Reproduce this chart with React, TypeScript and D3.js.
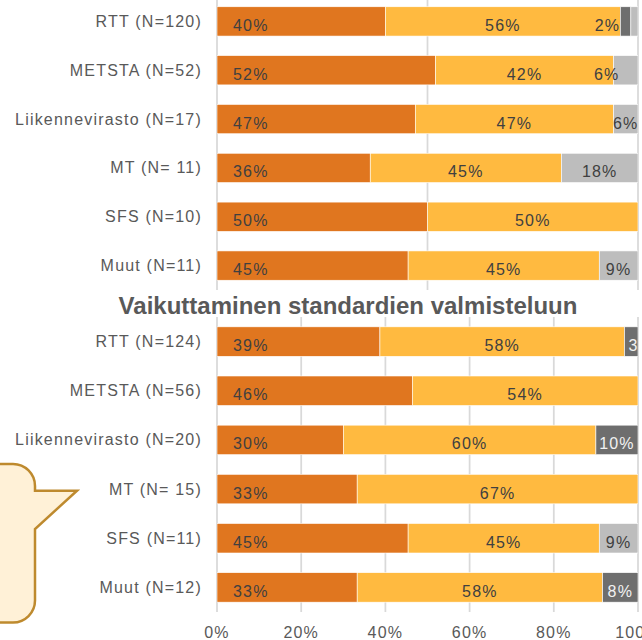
import React from "react";
import * as d3 from "d3";

// ---------- data ----------
const categoriesTop = [
  "RTT (N=120)",
  "METSTA (N=52)",
  "Liikennevirasto (N=17)",
  "MT (N= 11)",
  "SFS (N=10)",
  "Muut (N=11)",
];
const orangeTop = [40, 51.9, 47.1, 36.4, 50, 45.4];
const yellowTop = [55.8, 42.3, 47.1, 45.4, 50, 45.4];
const darkTop = [2.5, 0, 0, 0, 0, 0];
const lightTop = [1.7, 5.8, 5.8, 18.2, 0, 9.2];

const titleBottom = "Vaikuttaminen standardien valmisteluun";
const categoriesBottom = [
  "RTT (N=124)",
  "METSTA (N=56)",
  "Liikennevirasto (N=20)",
  "MT (N= 15)",
  "SFS (N=11)",
  "Muut (N=12)",
];
const orangeBottom = [38.7, 46.4, 30, 33.3, 45.4, 33.3];
const yellowBottom = [58.1, 53.6, 60, 66.7, 45.4, 58.3];
const darkBottom = [3.2, 0, 10, 0, 0, 8.4];
const lightBottom = [0, 0, 0, 0, 9.2, 0];

const ticksTop = [0, 50, 100];
const ticksBottom = [0, 20, 40, 60, 80, 100];

const seriesKeys = ["orange", "yellow", "dark", "light"];

// ---------- styling ----------
const COLORS: Record<string, string> = {
  orange: "#E0761F",
  yellow: "#FFBA40",
  dark: "#6E6E6E",
  light: "#BDBDBD",
};
const LABEL_COLORS: Record<string, string> = {
  orange: "#404040",
  yellow: "#404040",
  dark: "#F2F2F2",
  light: "#404040",
};
// label placement tweaks (chart-row-series) for narrow segments
const LABEL_NUDGE: Record<string, number> = {
  "top-0-light": -27,
  "top-1-light": -19,
  "bottom-0-dark": 10,
};
const HIDDEN_LABELS = new Set(["top-0-dark"]);

const FONT = "'Liberation Sans', Arial, sans-serif";
const GRID = "#D9D9D9";
const TEXT = "#595959";

const W = 642;
const H = 640;
const X0 = 217;
const X1 = 638;

const x = d3.scaleLinear().domain([0, 100]).range([X0, X1]);

function buildRows(cats: string[], o: number[], y: number[], d: number[], l: number[]) {
  return cats.map((c, i) => ({ cat: c, orange: o[i], yellow: y[i], dark: d[i], light: l[i] }));
}

const stack = d3.stack<any>().keys(seriesKeys);

function Panel({ id, cats, rows, ticks, y0, y1 }: any) {
  const band = d3
    .scaleBand<string>()
    .domain(cats)
    .range([y0, y1])
    .paddingInner(0.4)
    .paddingOuter(0.2);
  const stacked = stack(rows);
  const clipId = `clip-${id}`;
  return (
    <g>
      <defs>
        <clipPath id={clipId}>
          <rect x={X0} y={y0 - 5} width={X1 - X0} height={y1 - y0 + 10} />
        </clipPath>
      </defs>
      {ticks.map((t: number) => (
        <line
          key={t}
          x1={x(t)}
          x2={x(t)}
          y1={y0}
          y2={y1}
          stroke={GRID}
          strokeWidth={1.75}
        />
      ))}
      <g clipPath={`url(#${clipId})`}>
        {stacked.map((s) =>
          s.map((seg, i) =>
            seg[1] - seg[0] > 0 ? (
              <rect
                key={`${s.key}-${i}`}
                x={x(seg[0])}
                y={band(cats[i])}
                width={x(seg[1]) - x(seg[0])}
                height={band.bandwidth()}
                fill={COLORS[s.key]}
                stroke="#ffffff"
                strokeWidth={0.6}
              />
            ) : null
          )
        )}
        {stacked.map((s) =>
          s.map((seg, i) => {
            const v = seg[1] - seg[0];
            const k = `${id}-${i}-${s.key}`;
            if (v <= 0 || HIDDEN_LABELS.has(k)) return null;
            const cy = (band(cats[i]) as number) + band.bandwidth() / 2;
            const isBase = s.key === "orange";
            const lx = isBase ? x(seg[0]) + 16 : (x(seg[0]) + x(seg[1])) / 2 + (LABEL_NUDGE[k] || 0);
            return (
              <text
                key={k}
                x={lx}
                y={cy + 9.5}
                textAnchor={isBase ? "start" : "middle"}
                fontFamily={FONT}
                fontSize={16}
                letterSpacing={1.2}
                fill={LABEL_COLORS[s.key]}
              >
                {`${Math.round(v)}%`}
              </text>
            );
          })
        )}
      </g>
      {cats.map((c: string) => (
        <text
          key={c}
          x={202}
          y={(band(c) as number) + band.bandwidth() / 2 + 5.5}
          textAnchor="end"
          fontFamily={FONT}
          fontSize={16}
          letterSpacing={1.2}
          fill={TEXT}
        >
          {c}
        </text>
      ))}
    </g>
  );
}

export default function App() {
  const rowsTop = buildRows(categoriesTop, orangeTop, yellowTop, darkTop, lightTop);
  const rowsBottom = buildRows(categoriesBottom, orangeBottom, yellowBottom, darkBottom, lightBottom);
  const bubble =
    "M -5 464 H 13 A 22 22 0 0 1 35 486 V 490.7 H 77 L 35 529 V 600.5 A 22 22 0 0 1 13 622.5 H -5 Z";
  return (
    <svg
      width={W}
      height={H}
      style={{ position: "absolute", left: 0, top: 0, background: "#ffffff" }}
    >
      <rect x={0} y={0} width={W} height={H} fill="#ffffff" />
      <path d={bubble} fill="#FFF1D7" stroke="#BE8A2E" strokeWidth={2.5} strokeLinejoin="miter" />
      <Panel id="top" cats={categoriesTop} rows={rowsTop} ticks={ticksTop} y0={-3} y1={290} />
      <text
        x={348}
        y={314}
        textAnchor="middle"
        fontFamily={FONT}
        fontWeight="bold"
        fontSize={24}
        fill={TEXT}
      >
        {titleBottom}
      </text>
      <Panel id="bottom" cats={categoriesBottom} rows={rowsBottom} ticks={ticksBottom} y0={317} y1={612} />
      {ticksBottom.map((t) => (
        <text
          key={t}
          x={x(t)}
          y={638}
          textAnchor="middle"
          fontFamily={FONT}
          fontSize={16}
          letterSpacing={1.2}
          fill={TEXT}
        >
          {`${t}%`}
        </text>
      ))}
    </svg>
  );
}
